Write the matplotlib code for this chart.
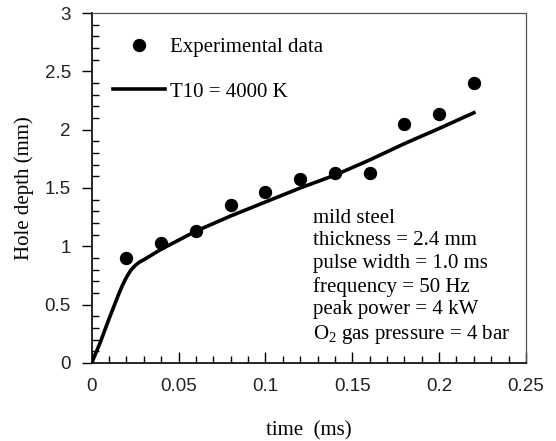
import matplotlib
matplotlib.use("Agg")
import matplotlib.pyplot as plt
from matplotlib.ticker import MultipleLocator

# Experimental data
exp_time = [0.02, 0.04, 0.06, 0.08, 0.10, 0.12, 0.14, 0.16, 0.18, 0.20, 0.22]
exp_depth = [0.90, 1.03, 1.13, 1.35, 1.465, 1.58, 1.625, 1.625, 2.045, 2.13, 2.40]

# Model curve T10 = 4000 K
model_time = [0, 0.005, 0.01, 0.015, 0.0175, 0.02, 0.0225, 0.025, 0.0275, 0.03, 0.035, 0.04,
              0.06, 0.08, 0.10, 0.12, 0.14, 0.16, 0.18, 0.20, 0.22]
model_depth = [0, 0.18, 0.38, 0.57, 0.66, 0.735, 0.795, 0.835, 0.865, 0.885, 0.93, 0.975,
               1.13, 1.26, 1.38, 1.50, 1.61, 1.74, 1.88, 2.01, 2.145]

xticks = [0, 0.05, 0.1, 0.15, 0.2, 0.25]
xtick_labels = ["0", "0.05", "0.1", "0.15", "0.2", "0.25"]
yticks = [0, 0.5, 1, 1.5, 2, 2.5, 3]
ytick_labels = ["0", "0.5", "1", "1.5", "2", "2.5", "3"]

info_lines = ["mild steel", "thickness = 2.4 mm", "pulse width = 1.0 ms",
              "frequency = 50 Hz", "peak power = 4 kW", "O$_2$ gas pressure = 4 bar"]

plt.rcParams['font.family'] = ['Liberation Serif', 'DejaVu Serif']
plt.rcParams['mathtext.default'] = 'regular'

fig = plt.figure(figsize=(5.56, 4.41), dpi=100)
ax = fig.add_axes([0.165, 0.177, 0.781, 0.7935])

ax.plot(exp_time, exp_depth, 'o', color='black', markersize=8.6, label='Experimental data')
ax.plot(model_time, model_depth, '-', color='black', linewidth=2.6, label='T10 = 4000 K',
        solid_joinstyle='round')

ax.set_xlim(0, 0.25)
ax.set_ylim(0, 3)
ax.set_xticks(xticks)
ax.set_xticklabels(xtick_labels)
ax.set_yticks(yticks)
ax.set_yticklabels(ytick_labels)
ax.xaxis.set_minor_locator(MultipleLocator(0.01))
ax.yaxis.set_minor_locator(MultipleLocator(0.1))

for lab in ax.get_xticklabels() + ax.get_yticklabels():
    lab.set_family(['Liberation Sans', 'DejaVu Sans'])
    lab.set_fontsize(13.5)
    lab.set_color('#222222')

ax.tick_params(axis='x', which='major', direction='in', length=8, width=1, pad=11)
ax.tick_params(axis='x', which='minor', direction='in', length=5, width=1)
ax.tick_params(axis='y', which='major', direction='out', length=7, width=1, pad=8)
ax.tick_params(axis='y', which='minor', direction='in', length=5, width=1)

for s in ['left', 'bottom']:
    ax.spines[s].set_linewidth(1.2)
    ax.spines[s].set_color('black')
for s in ['top', 'right']:
    ax.spines[s].set_linewidth(0.9)
    ax.spines[s].set_color('#555555')

ax.set_xlabel('time  (ms)', fontsize=15, labelpad=19)
ax.set_ylabel('Hole depth (mm)', fontsize=15, labelpad=8)

leg = ax.legend(loc='upper left', bbox_to_anchor=(0.048, 0.93), frameon=False,
                fontsize=15, handlelength=2.5, handletextpad=0.25, labelspacing=1.2,
                borderaxespad=0, borderpad=0)

ax.text(0.509, 0.44, "\n".join(info_lines), transform=ax.transAxes,
        fontsize=15, va='top', ha='left', linespacing=1.25)

fig.savefig('out.png', dpi=100)
